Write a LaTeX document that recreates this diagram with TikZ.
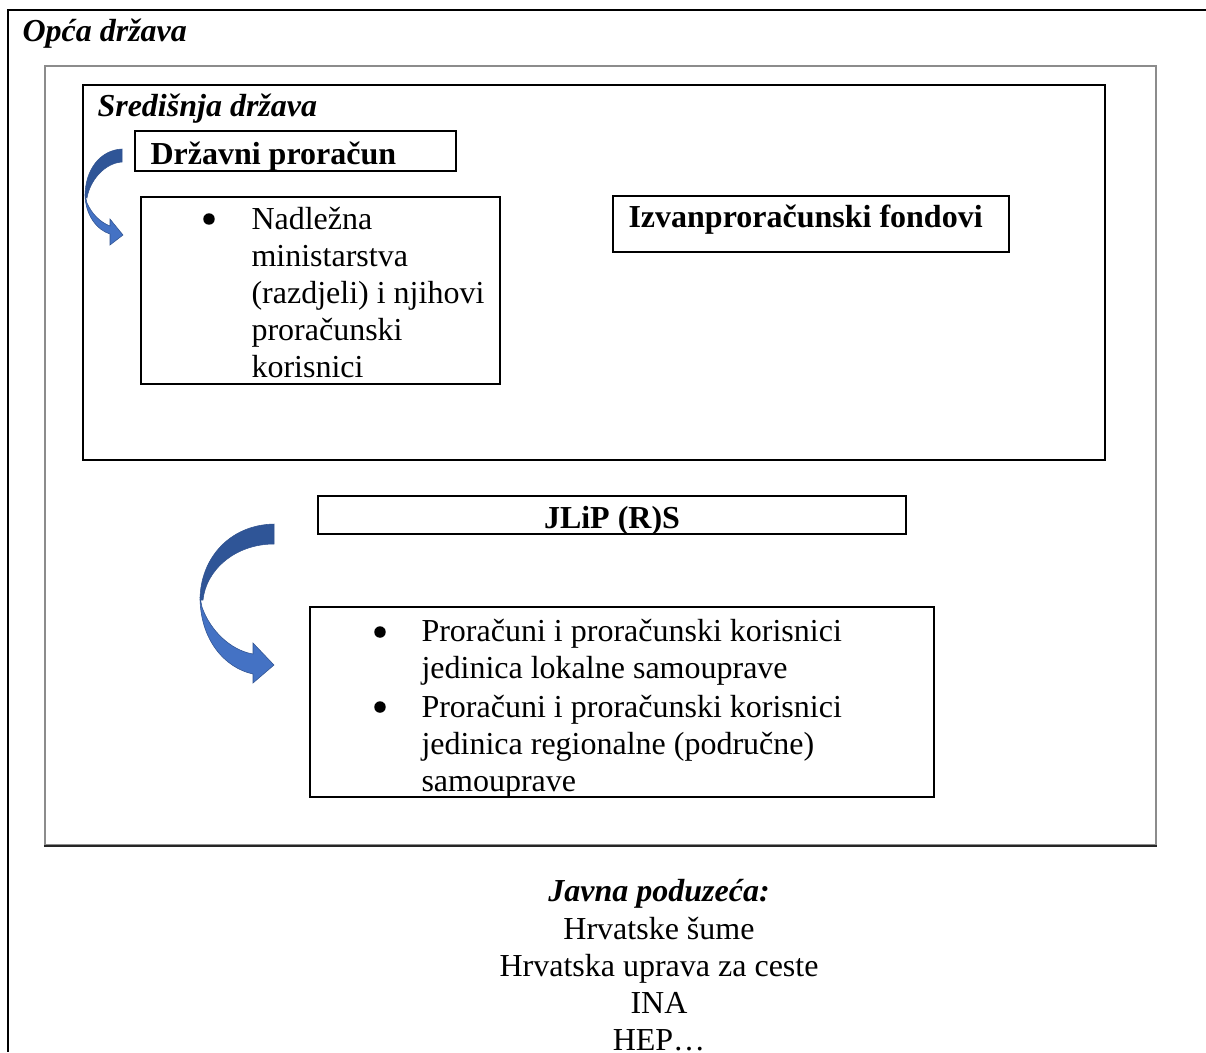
\documentclass[tikz,border=0pt]{standalone}
\usepackage{fontspec}
\setmainfont{Liberation Serif}
\usetikzlibrary{fit}
\definecolor{arrdark}{HTML}{2F5597}
\definecolor{arrlight}{HTML}{4472C4}
\definecolor{arredge}{HTML}{2F528F}
\tikzset{
  box/.style={draw=black, line width=0.75pt, inner sep=0pt},
  graybox/.style={draw=gray!90, line width=0.8pt, inner sep=0pt},
  txt/.style={inner sep=0pt, anchor=base west, font=\fontsize{12}{13.9}\selectfont},
  ctxt/.style={inner sep=0pt, anchor=base, font=\fontsize{12}{13.9}\selectfont},
  bul/.style={circle, fill=black, inner sep=0pt, minimum size=4.3pt},
  arrback/.style={fill=arrdark, draw=arredge, line width=0.2pt},
  arrfront/.style={fill=arrlight, draw=arredge, line width=0.2pt}
}
\begin{document}
\begin{tikzpicture}[x=0.375pt, y=-0.375pt]
\useasboundingbox (0,0) rectangle (1206,1052);
% outer frame (top and left only)
\draw[line width=1.1pt] (1206,10) -- (8,10) -- (8,1052);
\node[txt, font=\fontsize{12}{13.9}\selectfont\bfseries\itshape] (opca) at (22,41) {Opća država};
% gray box
\node[graybox, fit={(45,66) (1156,845)}] (gray) {};
\draw[line width=0.5pt, black!85] (gray.south west) -- (gray.south east);
% Sredisnja drzava
\node[box, fit={(83,85) (1105,460)}] (sred) {};
\node[txt, font=\fontsize{12}{13.9}\selectfont\bfseries\itshape] (sredt) at (97,116) {Središnja država};
% Drzavni proracun
\node[box, fit={(135,131) (456,171)}] (dp) {};
\node[txt, font=\fontsize{12}{13.9}\selectfont\bfseries] (dpt) at (150,164) {Državni proračun};
% Nadlezna box
\node[box, fit={(141,197) (500,384)}] (nad) {};
\node[bul] (b1) at (209,219) {};
\node[txt] (n1) at (251,229) {Nadležna};
\node[txt] (n2) at (251,266) {ministarstva};
\node[txt] (n3) at (251,303) {(razdjeli) i njihovi};
\node[txt] (n4) at (251,340) {proračunski};
\node[txt] (n5) at (251,377) {korisnici};
% Izvanproracunski
\node[box, fit={(613,196) (1009,252)}] (izv) {};
\node[txt, font=\fontsize{12}{13.9}\selectfont\bfseries] (izvt) at (628,227) {Izvanproračunski fondovi};
% JLiP
\node[box, fit={(318,496) (906,534)}] (jl) {};
\node[ctxt, font=\fontsize{12}{13.9}\selectfont\bfseries] (jlt) at (612,528) {JLiP (R)S};
% Proracuni box
\node[box, fit={(310,607) (934,797)}] (pr) {};
\node[bul] (b2) at (380,632) {};
\node[txt] (p1) at (421,641) {Proračuni i proračunski korisnici};
\node[txt] (p2) at (421,678) {jedinica lokalne samouprave};
\node[bul] (b3) at (380,707) {};
\node[txt] (p3) at (421,717) {Proračuni i proračunski korisnici};
\node[txt] (p4) at (421,754) {jedinica regionalne (područne)};
\node[txt] (p5) at (421,791) {samouprave};
% bottom text
\node[ctxt, font=\fontsize{12}{13.9}\selectfont\bfseries\itshape] (jp) at (659,901) {Javna poduzeća:};
\node[ctxt] (j1) at (659,939) {Hrvatske šume};
\node[ctxt] (j2) at (659,976) {Hrvatska uprava za ceste};
\node[ctxt] (j3) at (659,1013) {INA};
\node[ctxt] (j4) at (659,1050) {HEP…};
% small curved arrow
\draw[arrback] (122,149) .. controls (100,150) and (85,170) .. (85,196)
  -- (87,198) .. controls (90,180) and (105,163) .. (122,162) -- cycle;
\draw[arrfront] (85,194) .. controls (85,215) and (97,230) .. (110,234)
  -- (110,245) -- (123,235) -- (110,219) -- (110,226)
  .. controls (100,222) and (92,214) .. (87,203) -- cycle;
% big curved arrow
\draw[arrback] (274,524) .. controls (228,525) and (200,560) .. (200,600)
  -- (203,600) .. controls (206,570) and (235,544) .. (274,544) -- cycle;
\draw[arrfront] (200,597) .. controls (200,640) and (225,668) .. (253,674)
  -- (253,683) -- (274,665) -- (253,643) -- (253,654)
  .. controls (230,650) and (210,630) .. (202,607) -- cycle;
\end{tikzpicture}
\end{document}
